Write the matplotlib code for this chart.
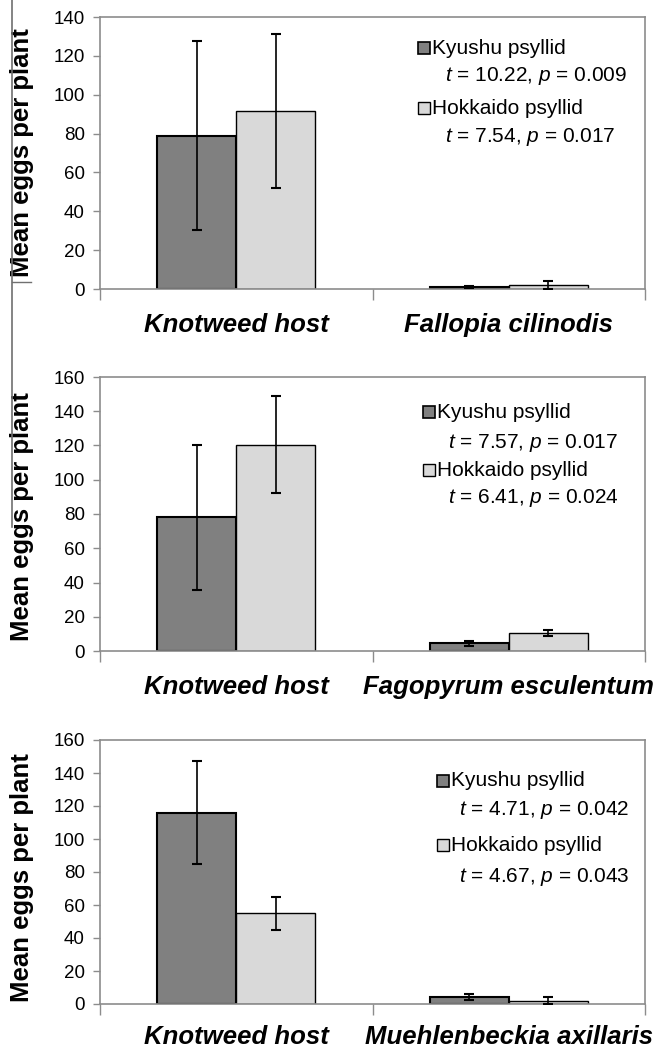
import matplotlib
matplotlib.use("Agg")
import matplotlib.pyplot as plt
from matplotlib.lines import Line2D

plt.rcParams['font.family'] = ['Liberation Sans', 'DejaVu Sans']
plt.rcParams['mathtext.fontset'] = 'custom'
plt.rcParams['mathtext.it'] = 'Liberation Sans:italic'
plt.rcParams['mathtext.rm'] = 'Liberation Sans'

# data
hosts = ["Knotweed host", "Knotweed host", "Knotweed host"]
test_plants = ["Fallopia cilinodis", "Fagopyrum esculentum", "Muehlenbeckia axillaris"]

kyushu_mean = [[79, 1], [78, 4.5], [116, 4.5]]
kyushu_err = [[48.5, 0.5], [42.5, 1.5], [31, 1.8]]
hokkaido_mean = [[91.5, 2], [120.5, 10.5], [55, 2]]
hokkaido_err = [[39.5, 2], [28.5, 1.5], [10, 2]]

kyushu_stats = ["$t$ = 10.22, $p$ = 0.009", "$t$ = 7.57, $p$ = 0.017", "$t$ = 4.71, $p$ = 0.042"]
hokkaido_stats = ["$t$ = 7.54, $p$ = 0.017", "$t$ = 6.41, $p$ = 0.024", "$t$ = 4.67, $p$ = 0.043"]
ymax = [140, 160, 160]

W, H = 658, 1048
fig = plt.figure(figsize=(W / 100, H / 100), dpi=100)

# axes boxes in pixels: (top, bottom)
boxes = [(17, 289), (377, 651), (740, 1004)]
# legend layout in axes fractions: square x, text x, stat x, and four y rows
leg_pos = [
    (0.595, 0.609, 0.633, [0.886, 0.783, 0.665, 0.559]),
    (0.603, 0.618, 0.638, [0.872, 0.759, 0.660, 0.558]),
    (0.630, 0.644, 0.659, [0.845, 0.735, 0.602, 0.481]),
]
label_pad = [17, 17, 15]
ylabel_y = [0.5, 0.49, 0.48]

dark = '#808080'
light = '#d9d9d9'
frame = '#8c8c8c'
bw = 0.29

for i in range(3):
    top, bot = boxes[i]
    ax = fig.add_axes([100 / W, 1 - bot / H, 545 / W, (bot - top) / H])
    x = [0, 1]
    ax.bar([v - bw / 2 for v in x], kyushu_mean[i], bw, color=dark,
           edgecolor='black', linewidth=1.5, zorder=2)
    ax.bar([v + bw / 2 for v in x], hokkaido_mean[i], bw, color=light,
           edgecolor='black', linewidth=1.0, zorder=2)
    ax.errorbar([v - bw / 2 for v in x], kyushu_mean[i], yerr=kyushu_err[i],
                fmt='none', ecolor='black', elinewidth=1.2, capsize=3.5, capthick=1.5, zorder=3)
    ax.errorbar([v + bw / 2 for v in x], hokkaido_mean[i], yerr=hokkaido_err[i],
                fmt='none', ecolor='black', elinewidth=1.2, capsize=3.5, capthick=1.5, zorder=3)

    ax.set_xlim(-0.5, 1.5)
    ax.set_ylim(0, ymax[i])
    ax.set_yticks(range(0, ymax[i] + 1, 20))
    ax.tick_params(axis='y', direction='out', length=5, width=1, color=frame,
                   labelsize=13.5, pad=6)
    ax.set_xticks([-0.5, 0.5, 1.5])
    ax.set_xticklabels([])
    ax.tick_params(axis='x', direction='out', length=8, width=1, color=frame)
    ax.set_xticks([0, 1], minor=True)
    ax.set_xticklabels([hosts[i], test_plants[i]], minor=True,
                       fontsize=18.5, fontweight='bold', fontstyle='italic')
    ax.tick_params(axis='x', which='minor', length=0, pad=label_pad[i])
    for s in ax.spines.values():
        s.set_color(frame)
        s.set_linewidth(1.2)

    ax.set_ylabel("Mean eggs per plant", fontsize=18.5, fontweight='bold')
    ax.yaxis.set_label_coords(-0.122, ylabel_y[i])

    sx, tx, px, ys = leg_pos[i]
    ax.plot([sx], [ys[0]], marker='s', ms=8, mfc=dark, mec='black', mew=1.2,
            transform=ax.transAxes, clip_on=False)
    ax.plot([sx], [ys[2]], marker='s', ms=8, mfc=light, mec='black', mew=1.0,
            transform=ax.transAxes, clip_on=False)
    ax.text(tx, ys[0], "Kyushu psyllid", transform=ax.transAxes, fontsize=15, va='center')
    ax.text(px, ys[1], kyushu_stats[i], transform=ax.transAxes, fontsize=15, va='center')
    ax.text(tx, ys[2], "Hokkaido psyllid", transform=ax.transAxes, fontsize=15, va='center')
    ax.text(px, ys[3], hokkaido_stats[i], transform=ax.transAxes, fontsize=15, va='center')

# stray scan line along the left edge
fig.add_artist(Line2D([12 / W, 12 / W], [1, 1 - 527 / H], color='#707070', lw=1.2))
fig.add_artist(Line2D([12 / W, 31 / W], [1 - 282 / H, 1 - 282 / H], color='#707070', lw=1.0))

fig.savefig("out.png", dpi=100)
